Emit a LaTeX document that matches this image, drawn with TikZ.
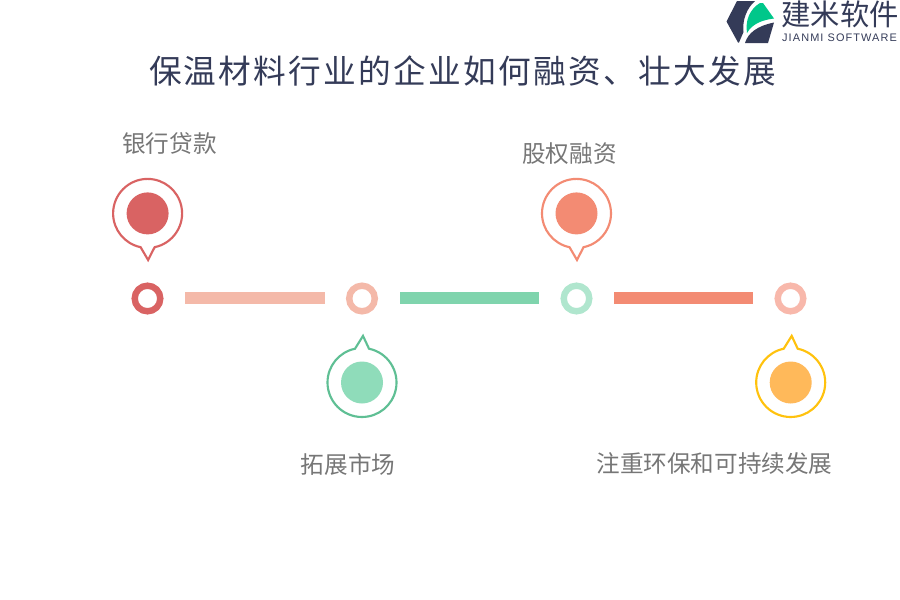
\documentclass[tikz,border=0pt]{standalone}
\usepackage{fontspec}
\setmainfont{Liberation Sans}
\newfontfamily\cjk{Noto Sans CJK SC}
\newfontfamily\cjktitle[LetterSpace=7]{Noto Sans CJK SC}
\newfontfamily\latinsub[LetterSpace=10]{Liberation Sans}
\definecolor{cRed}{HTML}{D96363}
\definecolor{cPeach}{HTML}{F4B9A9}
\definecolor{cGreenBar}{HTML}{7FD4AD}
\definecolor{cSalmon}{HTML}{F38B73}
\definecolor{cMint}{HTML}{B0E6CE}
\definecolor{cPink}{HTML}{F8B8AB}
\definecolor{cGreenLine}{HTML}{5FBF94}
\definecolor{cGreenFill}{HTML}{8FDCBA}
\definecolor{cGold}{HTML}{FFC20E}
\definecolor{cOrange}{HTML}{FFB95A}
\definecolor{cNavy}{HTML}{343B58}
\definecolor{cLogoGreen}{HTML}{00C78A}
\definecolor{cText}{HTML}{767676}
\tikzset{
  x=0.75pt,y=-0.75pt,
  titletext/.style={text=cNavy,font=\cjktitle\fontsize{24.5pt}{26pt}\selectfont,inner sep=0pt},
  labeltext/.style={text=cText,font=\cjk\fontsize{17.7pt}{20pt}\selectfont,inner sep=0pt},
  ringdot/.style={circle,draw=#1,line width=4.8pt,fill=white,minimum size=19.2pt,inner sep=0pt},
  barlink/.style={line width=8.8pt,draw=#1},
  pinline/.style={draw=#1,line width=1.6pt,fill=white,line join=miter},
  pindot/.style={circle,fill=#1,minimum size=31.5pt,inner sep=0pt},
}
% centre x, centre y, y direction (1 tip down, -1 tip up), tip x offset, colour
\newcommand{\pinshape}[5]{%
  \begin{scope}[shift={(#1,#2)},x=0.75pt,y=0.75pt,yscale=#3]
    \draw[pinline=#5] (0,34.5) arc[start angle=90,end angle=258.3,radius=34.5]
      -- (#4,-46.6) -- (7,-33.8)
      arc[start angle=-78.3,end angle=90,radius=34.5];
  \end{scope}}
\begin{document}
\begin{tikzpicture}
\useasboundingbox (0,0) rectangle (900,600);
% logo
\fill[cNavy] (726.5,21.5) -- (737,1) -- (755,1) .. controls (747,8) and (742,20) .. (743.5,32) -- (739,42.5) -- (738,42.5) -- cycle;
\fill[cNavy] (745,43) .. controls (748,33) and (757,26) .. (774,22.5) -- (768,43) -- cycle;
\fill[cLogoGreen] (747,33) .. controls (745,20) and (750,9) .. (760,3) -- (763,3) -- (774,18.5) .. controls (762,20) and (752,24) .. cycle;
\node[text=cNavy,font=\cjk\fontsize{22pt}{24pt}\selectfont,inner sep=0pt] (logoname) at (840,14) {建米软件};
\node[text=cNavy,font=\latinsub\fontsize{8.2pt}{10pt}\selectfont,inner sep=0pt] (logosub) at (839.5,37.5) {JIANMI SOFTWARE};
% title
\node[titletext] (title) at (462.5,71) {保温材料行业的企业如何融资、壮大发展};
% timeline dots
\node[ringdot=cRed] (d1) at (147.5,298.5) {};
\node[ringdot=cPeach] (d2) at (362,298.5) {};
\node[ringdot=cMint] (d3) at (576.5,298.5) {};
\node[ringdot=cPink] (d4) at (790.5,298.5) {};
% bars
\coordinate (b1a) at (185,298); \coordinate (b1b) at (325,298);
\coordinate (b2a) at (400,298); \coordinate (b2b) at (539,298);
\coordinate (b3a) at (614,298); \coordinate (b3b) at (753,298);
\draw[barlink=cPeach] (b1a) -- (b1b);
\draw[barlink=cGreenBar] (b2a) -- (b2b);
\draw[barlink=cSalmon] (b3a) -- (b3b);
% pins
\pinshape{147.6}{213.4}{1}{0.5}{cRed}
\pinshape{362}{382.5}{-1}{1}{cGreenLine}
\pinshape{576.5}{213.4}{1}{0.5}{cSalmon}
\pinshape{790.7}{382.5}{-1}{1}{cGold}
\node[pindot=cRed] (p1) at (147.6,213.4) {};
\node[pindot=cGreenFill] (p2) at (362,382.5) {};
\node[pindot=cSalmon] (p3) at (576.5,213.4) {};
\node[pindot=cOrange] (p4) at (790.7,382.5) {};
% labels
\node[labeltext] (l1) at (169.5,144) {银行贷款};
\node[labeltext] (l2) at (348,464) {拓展市场};
\node[labeltext] (l3) at (569.5,154) {股权融资};
\node[labeltext] (l4) at (714.5,464) {注重环保和可持续发展};
\end{tikzpicture}
\end{document}
